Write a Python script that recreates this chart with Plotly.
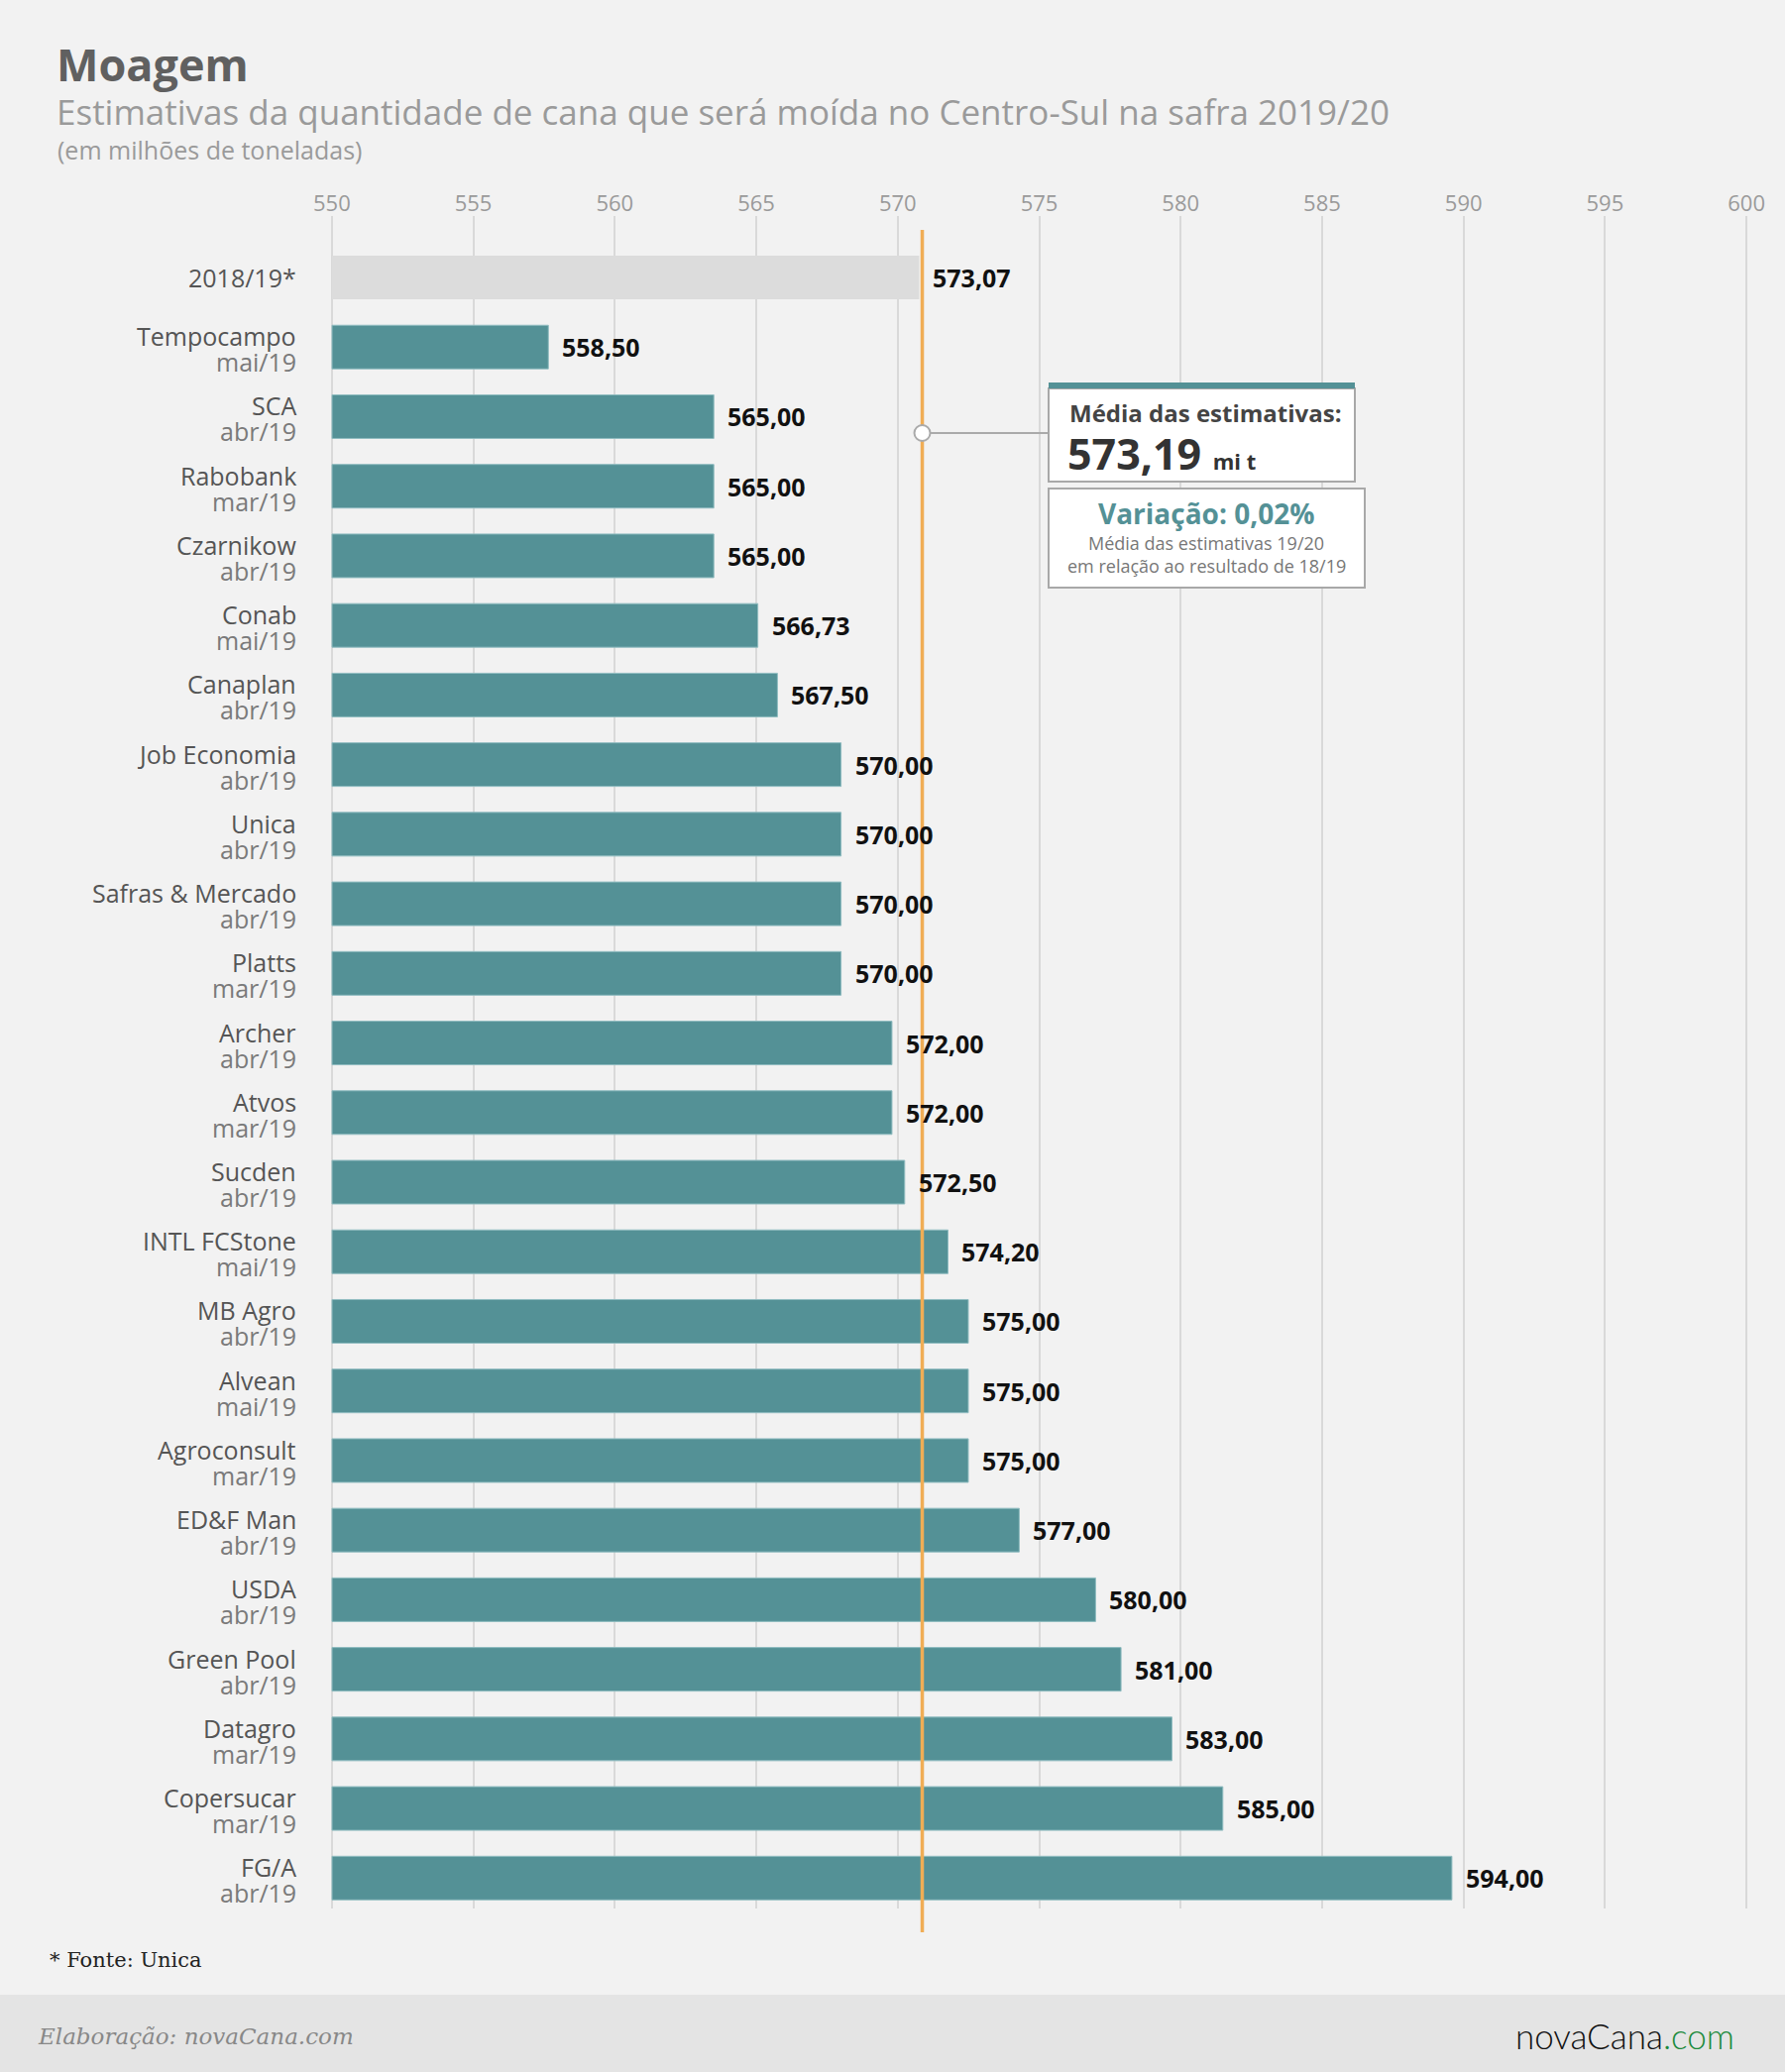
import numpy as np
import plotly.graph_objects as go

# ------------------------------------------------------------------
# Data
# ------------------------------------------------------------------
ref_label = "2018/19*"
ref_value = 573.07

names = [
    "Tempocampo", "SCA", "Rabobank", "Czarnikow", "Conab", "Canaplan",
    "Job Economia", "Unica", "Safras & Mercado", "Platts", "Archer", "Atvos",
    "Sucden", "INTL FCStone", "MB Agro", "Alvean", "Agroconsult", "ED&F Man",
    "USDA", "Green Pool", "Datagro", "Copersucar", "FG/A",
]
dates = [
    "mai/19", "abr/19", "mar/19", "abr/19", "mai/19", "abr/19",
    "abr/19", "abr/19", "abr/19", "mar/19", "abr/19", "mar/19",
    "abr/19", "mai/19", "abr/19", "mai/19", "mar/19", "abr/19",
    "abr/19", "abr/19", "mar/19", "mar/19", "abr/19",
]
values = [
    558.50, 565.00, 565.00, 565.00, 566.73, 567.50,
    570.00, 570.00, 570.00, 570.00, 572.00, 572.00,
    572.50, 574.20, 575.00, 575.00, 575.00, 577.00,
    580.00, 581.00, 583.00, 585.00, 594.00,
]
tick_values = [550, 555, 560, 565, 570, 575, 580, 585, 590, 595, 600]

mean_value = round(float(np.mean(values)), 2)
variation = (mean_value / ref_value - 1) * 100


def br(v, nd=2):
    return f"{v:.{nd}f}".replace(".", ",")


# ------------------------------------------------------------------
# Style
# ------------------------------------------------------------------
BG = "#f2f2f2"
TEAL = "#549196"
GREY_BAR = "#dcdcdc"
ORANGE = "#f0ad55"
SANS = "Open Sans"
SLAB = "DejaVu Serif"

W, H = 1801, 2091
M_L, M_R, M_T, M_B = 332, 36, 218, 165
PW, PH = W - M_L - M_R, H - M_T - M_B
BAR_PX_PER_UNIT = 25.68   # bars use a tighter scale than the tick axis in the original
BAR_START = 550 - 3 / BAR_PX_PER_UNIT
BASE = tick_values[0]


def px(x):
    return (x - M_L) / PW


def py(y):
    return (H - M_B - y) / PH


def note(x, y, text, size, color, anchor="left", family=SANS, **kw):
    fig.add_annotation(x=px(x), y=py(y), xref="paper", yref="paper",
                       xanchor=anchor, yanchor="middle", text=text, showarrow=False,
                       font=dict(family=family, size=size, color=color, **kw))


categories = [ref_label] + names

fig = go.Figure()
fig.add_trace(go.Bar(
    y=[ref_label], x=[ref_value - BASE], base=BASE, orientation="h", xaxis="x2",
    marker=dict(color=GREY_BAR, line=dict(width=0)), hoverinfo="skip",
))
fig.add_trace(go.Bar(
    y=names, x=[v - BASE for v in values], base=BASE, orientation="h", xaxis="x2",
    marker=dict(color=TEAL, line=dict(color="#8fbcc0", width=1)), hoverinfo="skip",
))
# invisible trace to keep the tick axis alive
fig.add_trace(go.Scatter(x=[tick_values[0], tick_values[-1]], y=[ref_label, ref_label],
                         mode="markers", marker=dict(opacity=0), hoverinfo="skip"))

# value labels
for cat, v in zip(categories, [ref_value] + values):
    fig.add_annotation(x=v, y=cat, xref="x2", yref="y", text=f"<b>{br(v)}</b>",
                       showarrow=False, xanchor="left", yanchor="middle", xshift=12,
                       font=dict(family=SANS, size=25, color="#111111"))

# category labels
label_x = px(301)
fig.add_annotation(x=label_x, y=ref_label, xref="paper", yref="y", text=ref_label,
                   showarrow=False, xanchor="right", yanchor="middle",
                   font=dict(family=SANS, size=25, color="#555555"))
for n, d in zip(names, dates):
    fig.add_annotation(x=label_x, y=n, xref="paper", yref="y", text=n,
                       showarrow=False, xanchor="right", yanchor="middle", yshift=11,
                       font=dict(family=SANS, size=25, color="#555555"))
    fig.add_annotation(x=label_x, y=n, xref="paper", yref="y", text=d,
                       showarrow=False, xanchor="right", yanchor="middle", yshift=-15,
                       font=dict(family=SANS, size=25, color="#7a7a7a"))

shapes = []
# mean line
shapes.append(dict(type="line", xref="x2", yref="paper", x0=mean_value, x1=mean_value,
                   y0=py(1950), y1=py(232), line=dict(color=ORANGE, width=3.5)))
# connector + dot
shapes.append(dict(type="line", xref="x2", yref="paper", xsizemode="pixel", xanchor=mean_value,
                   x0=0, x1=128, y0=py(437), y1=py(437), line=dict(color="#aaaaaa", width=2)))
shapes.append(dict(type="circle", xref="x2", yref="paper", xsizemode="pixel", ysizemode="pixel",
                   xanchor=mean_value, yanchor=py(437), x0=-8, x1=8, y0=-8, y1=8,
                   fillcolor="white", line=dict(color="#aaaaaa", width=2)))
# boxes
shapes.append(dict(type="rect", xref="paper", yref="paper", x0=px(1058), x1=px(1367),
                   y0=py(486), y1=py(392), fillcolor="white", line=dict(color="#a8a8a8", width=2)))
shapes.append(dict(type="rect", xref="paper", yref="paper", x0=px(1058), x1=px(1367),
                   y0=py(392), y1=py(386), fillcolor=TEAL, line=dict(width=0)))
shapes.append(dict(type="rect", xref="paper", yref="paper", x0=px(1058), x1=px(1377),
                   y0=py(593), y1=py(493), fillcolor="white", line=dict(color="#a8a8a8", width=2)))
# footer band
shapes.append(dict(type="rect", xref="paper", yref="paper", x0=px(0), x1=px(W),
                   y0=py(H), y1=py(2013), fillcolor="#e4e4e4", line=dict(width=0), layer="below"))

# box texts
note(1077, 417, "<b>Média das estimativas:</b>", 24, "#444444")
note(1075, 457, f"<b>{br(mean_value)}</b><span style='font-size:22px'><b>  mi t</b></span>",
     43, "#333333")
note(1217, 518, f"<b>Variação: {br(variation)}%</b>", 28, TEAL, anchor="center")
note(1217, 548, "Média das estimativas 19/20", 18, "#777777", anchor="center")
note(1217, 571, "em relação ao resultado de 18/19", 18, "#777777", anchor="center")

# titles
note(55, 64, "<b>Moagem</b>", 45, "#606060")
note(55, 112, "Estimativas da quantidade de cana que será moída no Centro-Sul na safra 2019/20",
     35, "#9a9a9a")
note(56, 151, "(em milhões de toneladas)", 25, "#9a9a9a")

# footer
note(48, 1978, "* Fonte: Unica", 21, "#222222", family=SLAB)
note(36, 2055, "<i>Elaboração: novaCana.com</i>", 23, "#888888", family=SLAB)
note(1752, 2054, "novaCana<span style='color:#1b8a3c'>.com</span>", 35, "#111111",
     anchor="right", family="Lato", weight=300)

fig.update_layout(
    width=W, height=H, autosize=False,
    margin=dict(l=M_L, r=M_R, t=M_T, b=M_B, pad=0),
    paper_bgcolor=BG, plot_bgcolor=BG,
    showlegend=False, barmode="overlay", bargap=0.3735,
    shapes=shapes,
    xaxis=dict(side="top", range=[tick_values[0] - 0.1, tick_values[-1] + 0.1], tickvals=tick_values,
               showgrid=True, gridcolor="#d9d9d9", gridwidth=1.5, zeroline=False,
               showline=False, ticks="", tickfont=dict(family=SANS, size=22, color="#9a9a9a")),
    xaxis2=dict(overlaying="x", range=[BAR_START, BAR_START + PW / BAR_PX_PER_UNIT], visible=False),
    yaxis=dict(type="category", categoryorder="array", categoryarray=categories,
               range=[len(categories) - 1 + 0.437, -0.883], showticklabels=False,
               showgrid=False, zeroline=False, showline=False),
)

fig.write_html("out.html", config={"displayModeBar": False},
               post_script="document.body.style.margin='0';document.body.style.background='#f2f2f2';")
